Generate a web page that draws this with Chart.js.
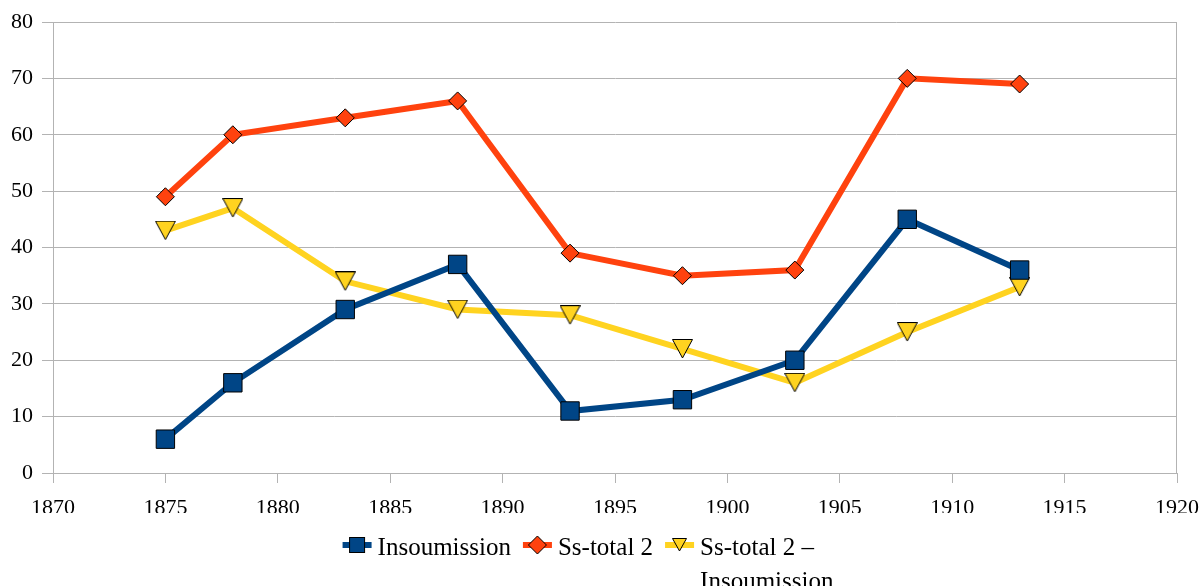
<!DOCTYPE html>
<html><head><meta charset="utf-8">
<script src="https://cdn.jsdelivr.net/npm/chart.js@4"></script>
<style>html,body{margin:0;padding:0;background:#fff}#wrap{width:1200px;height:586px;position:relative}canvas{display:block}</style>
</head><body><div id="wrap"><canvas id="c" width="1200" height="586"></canvas></div>
<script>
const years = [1875, 1878, 1883, 1888, 1893, 1898, 1903, 1908, 1913];
const insoumission = [6, 16, 29, 37, 11, 13, 20, 45, 36];
const ssTotal2 = [49, 60, 63, 66, 39, 35, 36, 70, 69];
const ssTotalMinusInsoumission = [43, 47, 34, 29, 28, 22, 16, 25, 33];
const seriesLabels = ['Insoumission', 'Ss-total 2', 'Ss-total 2 – Insoumission'];
const legendLines = [['Insoumission'], ['Ss-total 2'], ['Ss-total 2 –', 'Insoumission']];
const xTickValues = [1870, 1875, 1880, 1885, 1890, 1895, 1900, 1905, 1910, 1915, 1920];
const yTickValues = [0, 10, 20, 30, 40, 50, 60, 70, 80];

const BLUE = '#004586', ORANGE = '#ff420e', YELLOW = '#ffd320';
const GRID = '#b3b3b3';
const FONT = 'Liberation Serif';

function makeTriangle(w, h) {
  const c = document.createElement('canvas');
  c.width = w + 1; c.height = h + 1;
  const g = c.getContext('2d');
  g.beginPath();
  g.moveTo(0.5, 0.5); g.lineTo(w + 0.5, 0.5); g.lineTo(w / 2 + 0.5, h);
  g.closePath();
  g.fillStyle = YELLOW; g.fill();
  g.strokeStyle = '#000'; g.lineWidth = 1; g.stroke();
  return c;
}
const triPoint = makeTriangle(20, 19);
const triLegend = makeTriangle(14, 13);

function pts(vals) { return years.map((y, i) => ({ x: y, y: vals[i] })); }

const legendPlugin = {
  id: 'customLegend',
  afterDraw(chart) {
    const ctx = chart.ctx;
    ctx.save();
    ctx.font = '25px "' + FONT + '"';
    const symW = 29, gapAfterSym = 6, itemGap = 12;
    const widths = legendLines.map(ls => Math.max(...ls.map(l => ctx.measureText(l).width)));
    const total = widths.reduce((a, b) => a + b, 0) + legendLines.length * (symW + gapAfterSym) + itemGap * (legendLines.length - 1);
    let x = (chart.width - total) / 2 - 12;
    const cy = 545, base = 555, lh = 34;
    const colors = [BLUE, ORANGE, YELLOW];
    legendLines.forEach((ls, i) => {
      ctx.fillStyle = colors[i];
      ctx.fillRect(x, cy - 3, symW, 6);
      const mx = x + symW / 2;
      ctx.strokeStyle = '#000'; ctx.lineWidth = 1;
      if (i === 0) {
        ctx.fillStyle = BLUE;
        ctx.fillRect(mx - 7.5, cy - 7.5, 15, 15);
        ctx.strokeRect(mx - 7.5, cy - 7.5, 15, 15);
      } else if (i === 1) {
        ctx.beginPath();
        ctx.moveTo(mx - 9, cy); ctx.lineTo(mx, cy - 9); ctx.lineTo(mx + 9, cy); ctx.lineTo(mx, cy + 9); ctx.closePath();
        ctx.fillStyle = ORANGE; ctx.fill(); ctx.stroke();
      } else {
        ctx.drawImage(triLegend, Math.round(mx - 7.5), Math.round(cy - 7));
      }
      ctx.fillStyle = '#000';
      ctx.textBaseline = 'alphabetic';
      ctx.textAlign = 'left';
      const tx = x + symW + gapAfterSym;
      ls.forEach((l, j) => ctx.fillText(l, tx, base + j * lh));
      x = tx + widths[i] + itemGap;
    });
    // right border of plot area
    const a = chart.chartArea;
    ctx.strokeStyle = GRID; ctx.lineWidth = 1;
    ctx.beginPath();
    ctx.moveTo(Math.round(a.right) - 0.5, a.top);
    ctx.lineTo(Math.round(a.right) - 0.5, a.bottom);
    ctx.stroke();
    ctx.restore();
  }
};

new Chart(document.getElementById('c'), {
  type: 'line',
  data: {
    datasets: [
      { label: seriesLabels[0], data: pts(insoumission), borderColor: BLUE, backgroundColor: BLUE, borderWidth: 6,
        pointStyle: 'rect', pointRadius: 13, pointBorderColor: '#000', pointBorderWidth: 1, pointBackgroundColor: BLUE, tension: 0 },
      { label: seriesLabels[1], data: pts(ssTotal2), borderColor: ORANGE, backgroundColor: ORANGE, borderWidth: 6,
        pointStyle: 'rectRot', pointRadius: 9, pointBorderColor: '#000', pointBorderWidth: 1, pointBackgroundColor: ORANGE, tension: 0 },
      { label: seriesLabels[2], data: pts(ssTotalMinusInsoumission), borderColor: YELLOW, backgroundColor: YELLOW, borderWidth: 6,
        pointStyle: triPoint, pointRadius: 10, tension: 0 }
    ]
  },
  options: {
    responsive: false,
    animation: false,
    events: [],
    layout: { padding: { left: 0, right: 23, top: 22, bottom: 73 } },
    plugins: { legend: { display: false }, tooltip: { enabled: false } },
    scales: {
      x: {
        type: 'linear', min: 1870, max: 1920,
        afterBuildTicks: s => { s.ticks = xTickValues.map(v => ({ value: v })); },
        afterFit: s => { s.height = 40; s.paddingLeft = 0; s.paddingRight = 0; },
        ticks: { callback: v => String(v), color: '#000', font: { family: FONT, size: 22 }, padding: 12, maxRotation: 0, autoSkip: false },
        grid: { drawOnChartArea: false, drawTicks: true, tickLength: 10, color: GRID },
        border: { color: GRID, width: 1 }
      },
      y: {
        min: 0, max: 80,
        afterBuildTicks: s => { s.ticks = yTickValues.map(v => ({ value: v })); },
        afterFit: s => { s.width = 53; s.paddingTop = 0; s.paddingBottom = 0; },
        ticks: { callback: v => String(v), color: '#000', font: { family: FONT, size: 22 }, padding: 9 },
        grid: { drawOnChartArea: true, drawTicks: true, tickLength: 11, color: GRID },
        border: { color: GRID, width: 1 }
      }
    }
  },
  plugins: [legendPlugin]
});
</script>
</body></html>
